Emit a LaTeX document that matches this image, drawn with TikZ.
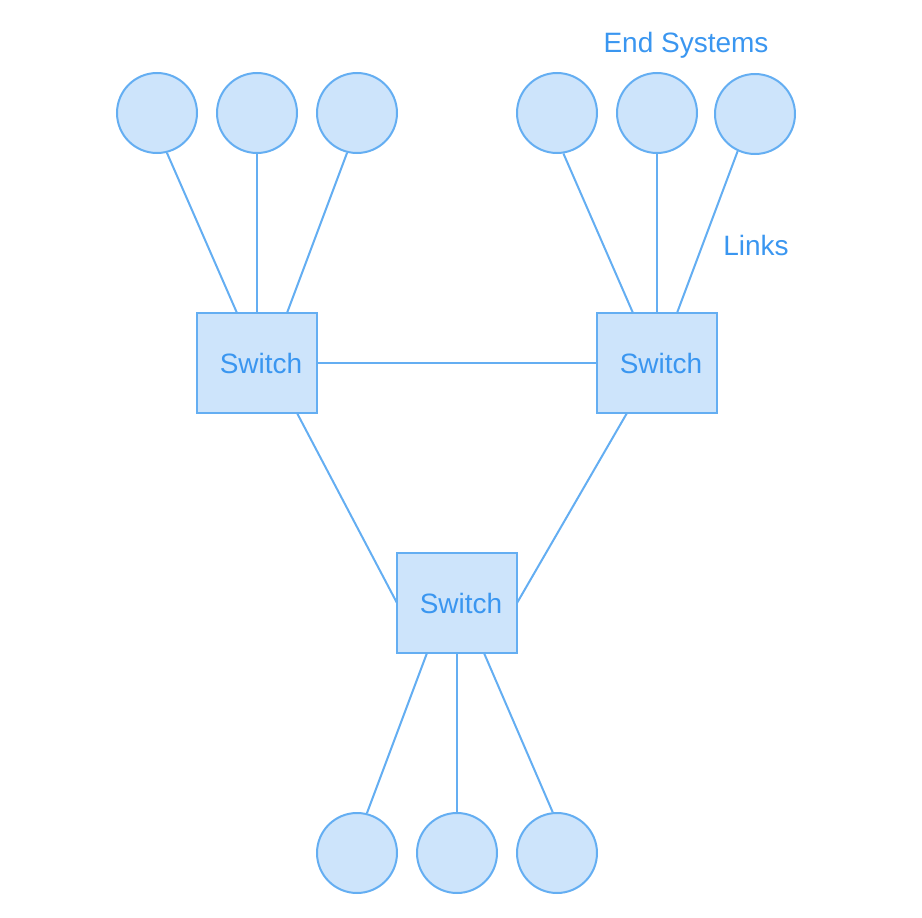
\documentclass[tikz,border=0pt]{standalone}
\usepackage{fontspec}
\setmainfont{Liberation Sans}
\usetikzlibrary{calc}
\definecolor{nfill}{RGB}{205,228,251}
\definecolor{nline}{RGB}{100,174,242}
\definecolor{ntext}{RGB}{58,150,240}
\begin{document}
\begin{tikzpicture}[x=1pt,y=-1pt,
  every node/.style={font=\fontsize{28}{32}\selectfont, text=ntext},
  endsys/.style={circle, draw=nline, fill=nfill, line width=2pt, minimum size=80pt, inner sep=0pt},
  switchbox/.style={rectangle, draw=nline, fill=nfill, line width=2pt, minimum width=120pt, minimum height=100pt, inner sep=0pt},
  link/.style={draw=nline, line width=2pt}]
\useasboundingbox (0,0) rectangle (922,918);
% end systems
\node[endsys] (c1) at (157,113) {};
\node[endsys] (c2) at (257,113) {};
\node[endsys] (c3) at (357,113) {};
\node[endsys] (c4) at (557,113) {};
\node[endsys] (c5) at (657,113) {};
\node[endsys] (c6) at (755,114) {};
\node[endsys] (c7) at (357,853) {};
\node[endsys] (c8) at (457,853) {};
\node[endsys] (c9) at (557,853) {};
% links (drawn before switches)
\coordinate (s1c) at (257,363);
\coordinate (s2c) at (657,363);
\coordinate (s3c) at (457,603);
\draw[link] (c1.-76) -- ($(s1c)+(-20,-50)$);
\draw[link] (c2.south) -- ($(s1c)+(0,-50)$);
\draw[link] (c3.-104) -- ($(s1c)+(30,-50)$);
\draw[link] (c4.-81) -- ($(s2c)+(-24,-50)$);
\draw[link] (c5.south) -- ($(s2c)+(0,-50)$);
\draw[link] (c6.-115) -- ($(s2c)+(20,-50)$);
\draw[link] ($(s3c)+(-30,50)$) -- (c7.76);
\draw[link] ($(s3c)+(0,50)$) -- (c8.north);
\draw[link] ($(s3c)+(27,50)$) -- (c9.96);
\draw[link] ($(s1c)+(60,0)$) -- ($(s2c)+(-60,0)$);
\draw[link] ($(s1c)+(40,50)$) -- ($(s3c)+(-60,0)$);
\draw[link] ($(s2c)+(-30,50)$) -- ($(s3c)+(60,0)$);
% switches
\node[switchbox] (s1) at (s1c) {\hspace*{8pt}Switch};
\node[switchbox] (s2) at (s2c) {\hspace*{8pt}Switch};
\node[switchbox] (s3) at (s3c) {\hspace*{8pt}Switch};
% labels
\node[inner sep=0pt, anchor=base] (es) at (686,52) {End Systems};
\node[inner sep=0pt, anchor=base] (lk) at (756,255) {Links};
\end{tikzpicture}
\end{document}
